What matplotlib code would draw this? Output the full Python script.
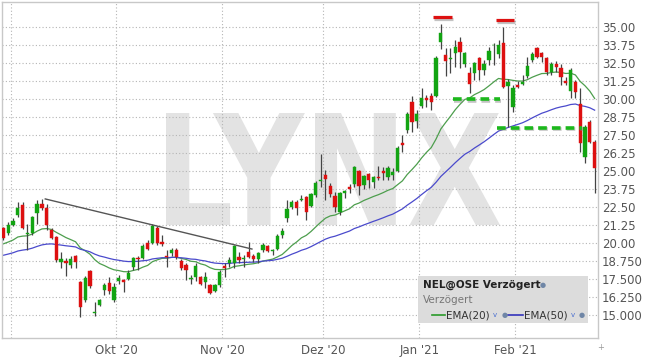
import numpy as np
import pandas as pd
import matplotlib
matplotlib.use('Agg')
import matplotlib.pyplot as plt
from matplotlib.textpath import TextPath
from matplotlib.patches import PathPatch, Rectangle
from matplotlib.font_manager import FontProperties
from matplotlib.transforms import Affine2D
from matplotlib.lines import Line2D
import matplotlib.patheffects as pe

# trading days Oslo Boers, 28 Aug 2020 - 23 Feb 2021
holidays = ['2020-12-24', '2020-12-25', '2020-12-31', '2021-01-01']
dates = pd.bdate_range('2020-08-28', '2021-02-23')
dates = dates[~dates.isin(pd.to_datetime(holidays))]

# NEL daily candles (NOK)
opens = [21.04, 20.69, 21.25, 21.94, 22.64, 20.60, 20.69, 22.08, 22.71, 22.43,
         20.90, 20.42, 18.68, 18.75, 18.47, 19.10, 17.29, 16.04, 18.06, 15.14,
         15.70, 16.74, 17.22, 16.04, 17.36, 17.43, 17.50, 18.33, 18.99, 18.96,
         20.00, 20.00, 21.04, 20.07, 19.13, 19.31, 19.51, 18.75, 18.47, 17.47,
         17.64, 17.64, 17.29, 17.08, 16.67, 17.08, 18.40, 18.61, 18.61, 19.03,
         18.92, 19.38, 19.10, 18.89, 19.51, 19.79, 19.44, 19.58, 20.56, 21.74,
         22.50, 22.85, 23.02, 23.19, 22.57, 23.33, 24.34, 24.72, 23.96, 23.26,
         22.15, 23.47, 23.89, 24.10, 25.00, 24.03, 24.79, 24.24, 24.60, 25.00,
         24.58, 24.72, 25.00, 26.94, 27.85, 29.79, 28.47, 29.51, 30.07, 30.21,
         30.21, 33.96, 33.06, 32.81, 33.19, 33.96, 32.43, 31.81, 31.81, 32.85,
         32.01, 32.71, 33.72, 33.12, 33.89, 30.90, 29.44, 30.94, 31.04, 31.60,
         32.71, 33.54, 33.19, 32.85, 31.88, 32.43, 32.15, 31.25, 30.56, 31.18,
         29.65, 25.97, 28.40, 27.01]
highs = [21.11, 21.46, 21.74, 22.85, 22.85, 21.32, 21.85, 22.99, 23.06, 22.71,
         21.04, 20.49, 19.38, 18.96, 19.10, 19.17, 17.36, 17.71, 18.13, 15.90,
         16.11, 17.22, 17.64, 17.22, 17.78, 17.50, 18.13, 19.03, 19.10, 19.93,
         20.21, 21.32, 21.18, 20.56, 19.51, 19.65, 19.65, 18.89, 18.61, 17.78,
         18.61, 17.71, 17.99, 17.15, 17.15, 18.13, 18.61, 19.03, 19.86, 19.38,
         19.17, 20.07, 19.24, 19.38, 20.00, 19.86, 19.60, 20.63, 21.04, 22.99,
         22.99, 22.99, 23.33, 23.26, 23.47, 24.31, 26.18, 25.07, 24.17, 23.54,
         23.54, 23.68, 24.10, 25.35, 25.07, 24.72, 24.86, 24.65, 25.35, 25.28,
         25.35, 25.21, 26.74, 27.50, 29.10, 30.21, 29.24, 30.76, 30.28, 30.42,
         32.99, 35.21, 33.54, 33.54, 34.10, 34.31, 33.26, 32.22, 32.57, 32.92,
         32.71, 33.61, 33.89, 34.10, 35.00, 31.39, 30.97, 31.25, 31.67, 32.92,
         33.26, 33.61, 33.26, 32.92, 32.57, 32.64, 32.43, 31.53, 32.15, 31.32,
         30.76, 28.19, 28.54, 27.15]
lows = [20.21, 20.56, 21.18, 21.81, 20.97, 19.51, 20.56, 21.32, 22.29, 20.90,
        20.28, 18.68, 18.27, 17.71, 18.26, 18.26, 14.86, 15.90, 16.88, 14.93,
        15.63, 16.39, 16.46, 15.90, 17.15, 16.60, 17.43, 18.13, 18.13, 18.89,
        19.51, 19.93, 19.86, 19.79, 18.33, 19.10, 18.89, 18.13, 17.43, 17.15,
        17.36, 17.08, 16.88, 16.46, 16.60, 16.94, 17.64, 18.33, 18.26, 18.61,
        18.33, 18.96, 18.68, 18.61, 19.38, 19.38, 19.20, 19.51, 20.35, 21.46,
        22.36, 21.94, 22.92, 21.60, 22.50, 23.19, 23.89, 22.99, 23.19, 22.15,
        21.94, 23.12, 23.47, 23.89, 23.33, 23.75, 23.82, 23.82, 24.38, 24.38,
        24.38, 24.38, 24.93, 26.32, 27.64, 27.71, 27.99, 29.38, 29.44, 29.24,
        30.14, 33.47, 31.60, 31.81, 32.22, 32.15, 32.22, 30.42, 31.32, 31.32,
        31.67, 32.36, 32.36, 32.85, 30.76, 28.06, 29.10, 30.76, 30.97, 31.46,
        32.57, 32.85, 32.57, 31.67, 31.67, 31.88, 30.97, 30.97, 30.07, 30.07,
        26.32, 25.56, 26.94, 23.47]
closes = [20.35, 21.25, 21.53, 22.43, 21.04, 20.70, 21.81, 22.71, 22.43, 21.25,
          20.35, 18.82, 18.89, 18.61, 18.89, 18.68, 15.56, 17.57, 17.01, 15.21,
          16.04, 17.08, 16.67, 16.94, 17.57, 17.29, 17.92, 18.96, 18.89, 19.79,
          19.58, 21.18, 20.00, 19.96, 19.06, 19.51, 19.03, 18.26, 18.13, 17.54,
          18.40, 17.15, 17.64, 16.53, 17.08, 17.99, 18.26, 18.82, 19.79, 18.82,
          18.99, 19.03, 18.89, 19.31, 19.86, 19.44, 19.51, 20.49, 20.83, 22.36,
          22.85, 22.43, 23.09, 22.15, 23.40, 24.17, 24.41, 24.44, 23.40, 22.50,
          23.47, 23.61, 23.75, 25.28, 23.96, 24.65, 24.38, 24.58, 24.50, 24.86,
          25.21, 24.93, 26.60, 26.81, 28.96, 28.40, 28.96, 30.07, 29.93, 29.79,
          32.85, 34.58, 32.64, 32.88, 33.61, 33.26, 33.19, 31.04, 32.50, 32.01,
          32.43, 33.33, 33.78, 33.75, 30.83, 31.18, 30.76, 30.83, 31.18, 32.29,
          33.12, 32.92, 32.92, 31.88, 32.43, 32.22, 31.53, 31.11, 32.01, 30.49,
          26.94, 28.06, 27.01, 25.21]

# EMA levels just before the window
ema20_start = 19.9
ema50_start = 19.1

price_ticks = [15.0, 16.25, 17.5, 18.75, 20.0, 21.25, 22.5, 23.75, 25.0,
               26.25, 27.5, 28.75, 30.0, 31.25, 32.5, 33.75, 35.0]
price_labels = ['15.000', '16.250', '17.500', '18.750', '20.00', '21.25', '22.50',
                '23.75', '25.00', '26.25', '27.50', '28.75', '30.00', '31.25',
                '32.50', '33.75', '35.00']
month_labels = ['', "Okt '20", "Nov '20", "Dez '20", "Jan '21", "Feb '21"]

# drawn-in analysis lines (index, price)
trend_x = [8.7, 51.7]
trend_y = [23.06, 19.58]
resist_x = [(89.3, 93.3), (102.4, 106.2)]
resist_y = [35.69, 35.49]
support_x = [(93.5, 103.3), (102.6, 120.3)]
support_y = [30.0, 28.0]


def ema(values, n, start):
    a = 2 / (n + 1)
    prev = start
    out = []
    for v in values:
        prev = a * v + (1 - a) * prev
        out.append(prev)
    return out


W, H = 645, 358
fig = plt.figure(figsize=(W / 100, H / 100), dpi=100)
ax = fig.add_axes([2 / W, (H - 338) / H, 596 / W, 336 / H])
ax.set_facecolor('white')

idx = np.arange(len(closes))
o = np.array(opens)
c = np.array(closes)
up = c >= o

# watermark
tp = TextPath((0, 0), 'LYNX', size=1, prop=FontProperties(family='DejaVu Sans', weight='bold'))
bb = tp.get_extents()
wm_tr = Affine2D().translate(-bb.x0, -bb.y0).scale(0.5604 / bb.width, 0.3333 / bb.height) \
    .translate(0.2752, 0.3363) + ax.transAxes
ax.add_patch(PathPatch(tp, transform=wm_tr, facecolor='#e3e3e3', edgecolor='none', zorder=0))

# EMA lines
ax.plot(idx, ema(closes, 20, ema20_start), color='#4d9e4d', lw=0.9, zorder=2)
ax.plot(idx, ema(closes, 50, ema50_start), color='#4a4acc', lw=0.9, zorder=2)

# candles
ax.vlines(idx, lows, highs, color='#444444', lw=0.9, zorder=3)
body_bottom = np.minimum(o, c)
body_h = np.maximum(np.abs(c - o), 0.06)
colors = np.where(up, '#12a412', '#dd1010')
ax.bar(idx, body_h, bottom=body_bottom, width=0.68, color=colors,
       edgecolor=colors, linewidth=0.3, zorder=4)

# trend line
ax.plot(trend_x, trend_y, color='#555555', lw=1.0, zorder=5)

shadow = [pe.SimpleLineShadow(offset=(1, -1.2), shadow_color='#888888', alpha=0.5), pe.Normal()]
for (x0, x1), y in zip(resist_x, resist_y):
    ax.plot([x0, x1], [y, y], color='#dd1111', lw=2.3, solid_capstyle='butt',
            path_effects=shadow, zorder=6)
for (x0, x1), y in zip(support_x, support_y):
    ax.plot([x0, x1], [y, y], color='#1cb81c', lw=2.6, linestyle=(0, (2.4, 1.4)),
            path_effects=shadow, zorder=6)

# axes
ax.set_xlim(-0.3, 123.7)
ax.set_ylim(13.40, 36.74)
month_pos = [dates.get_indexer([d])[0] - 0.5 for d in
             [dates[(dates.month == m)][0] for m in [9, 10, 11, 12, 1, 2]]]
ax.set_xticks(month_pos)
ax.set_xticklabels(month_labels)
ax.yaxis.tick_right()
ax.set_yticks(price_ticks)
ax.set_yticklabels(price_labels)
ax.tick_params(axis='both', length=0, labelsize=8.5, labelcolor='#555555')
ax.tick_params(axis='y', pad=3)
ax.tick_params(axis='x', pad=4)
ax.grid(True, color='#b5b5b5', linestyle=(0, (1, 2)), linewidth=0.8, zorder=1)
ax.set_axisbelow(True)
for s in ax.spines.values():
    s.set_color('#c8c8c8')
    s.set_linewidth(1.0)


def fx(x):
    return x / W


def fy(y):
    return 1 - y / H


# legend box
fig.add_artist(Rectangle((fx(418), fy(323)), fx(170), 47 / H, transform=fig.transFigure,
                         facecolor='#dcdcdc', edgecolor='none', zorder=10))
fig.text(fx(423), fy(285), 'NEL@OSE Verzögert', fontsize=7.5, fontweight='bold',
         color='#222222', va='center', zorder=11)
fig.text(fx(423), fy(300), 'Verzögert', fontsize=7.5, color='#777777', va='center', zorder=11)
fig.add_artist(Line2D([fx(432), fx(445)], [fy(315), fy(315)], color='#2a9a2a', lw=1.2, zorder=11))
fig.text(fx(446), fy(315), 'EMA(20)', fontsize=7.5, color='#333333', va='center', zorder=11)
fig.add_artist(Line2D([fx(508), fx(523)], [fy(315), fy(315)], color='#3333bb', lw=1.2, zorder=11))
fig.text(fx(524), fy(315), 'EMA(50)', fontsize=7.5, color='#333333', va='center', zorder=11)
for gx, gy in [(543, 285), (505, 315), (582, 315)]:
    fig.text(fx(gx), fy(gy), '●', fontsize=5, color='#6f86a6', ha='center', va='center', zorder=11)
for vx in [495, 573]:
    fig.text(fx(vx), fy(315), 'v', fontsize=5, color='#4a6fd0', ha='center', va='center', zorder=11)
fig.text(fx(601), fy(348), '+', fontsize=6, color='#999999', ha='center', va='center')

fig.savefig('out.png', dpi=100)
